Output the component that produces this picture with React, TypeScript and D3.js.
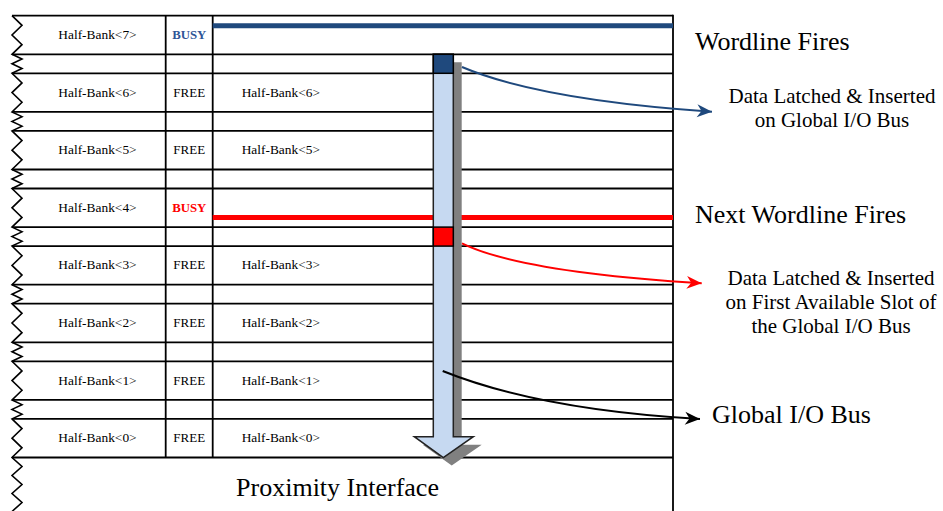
import React from "react";
import * as d3 from "d3";

const BANKS = [7, 6, 5, 4, 3, 2, 1, 0];
const STATUS = ["BUSY", "FREE", "FREE", "BUSY", "FREE", "FREE", "FREE", "FREE"];
const BUSY_COLOR: Record<number, string> = { 7: "#1F497D", 4: "#FF0000" };
const TITLE_WORDLINE = "Wordline Fires";
const TITLE_NEXT = "Next Wordline Fires";
const TITLE_BUS = "Global I/O Bus";
const TITLE_PROX = "Proximity Interface";
const CALLOUT_BLUE = ["Data Latched & Inserted", "on Global I/O Bus"];
const CALLOUT_RED = ["Data Latched & Inserted", "on First Available Slot of", "the Global I/O Bus"];

const W = 943;
const H = 511;
const X0 = 12;
const XC1 = 165.7;
const XC2 = 212.7;
const XR = 673;
const TOP = 15.7;
const STEP = 57.6;
const MAIN = 38.6;
const FONT = "'Liberation Serif', 'Times New Roman', serif";

export default function App() {
  const y = d3
    .scaleBand<number>()
    .domain(BANKS)
    .range([TOP, TOP + STEP * BANKS.length])
    .paddingInner(0)
    .paddingOuter(0);
  const rowTop = (b: number) => y(b) as number;
  const tableBottom = rowTop(0) + MAIN;

  // horizontal lines
  const hLines: number[] = [];
  BANKS.forEach((b) => {
    hLines.push(rowTop(b));
    hLines.push(rowTop(b) + MAIN);
  });

  // zigzag
  const zz = d3.path();
  zz.moveTo(X0, TOP);
  const addTeeth = (y0: number, y1: number, n: number) => {
    const h = (y1 - y0) / (2 * n);
    for (let i = 0; i < n; i++) {
      zz.lineTo(X0 + 10, y0 + h * (2 * i + 1));
      zz.lineTo(X0, y0 + h * (2 * i + 2));
    }
  };
  BANKS.forEach((b, i) => {
    addTeeth(rowTop(b), rowTop(b) + MAIN, 2);
    if (i < BANKS.length - 1) addTeeth(rowTop(b) + MAIN, rowTop(b) + STEP, 2);
  });
  addTeeth(tableBottom, tableBottom + 54, 3);

  // bus arrow
  const sx0 = 433.3, sx1 = 453.3, sTop = rowTop(7) + MAIN, sBot = 436.7;
  const hx0 = 414.3, hx1 = 473.3, tipY = tableBottom;
  const cx = (sx0 + sx1) / 2;
  const arrowPts: [number, number][] = [
    [sx0, sTop], [sx1, sTop], [sx1, sBot], [hx1, sBot], [cx, tipY], [hx0, sBot], [sx0, sBot],
  ];
  const arrowPath = (dx: number, dy: number) =>
    d3.line()(arrowPts.map(([a, b]) => [a + dx, b + dy] as [number, number])) + "Z";

  const curve = (p0: [number, number], c: [number, number], p1: [number, number]) => {
    const p = d3.path();
    p.moveTo(p0[0], p0[1]);
    p.quadraticCurveTo(c[0], c[1], p1[0], p1[1]);
    return p.toString();
  };

  const busyLineY: Record<number, number> = { 7: rowTop(7) + 10, 4: rowTop(4) + 29 };

  return (
    <svg width={W} height={H} style={{ position: "absolute", left: 0, top: 0, background: "#fff" }} fontFamily={FONT}>
      <defs>
        {[["blue", "#1F497D"], ["red", "#FF0000"], ["black", "#000"]].map(([id, c]) => (
          <marker key={id} id={"ah-" + id} markerUnits="userSpaceOnUse" markerWidth={20} markerHeight={16}
            viewBox="-16 -8 17 16" refX={0} refY={0} orient="auto">
            <path d="M0,0 L-15,-6.5 L-10.5,0 L-15,6.5 Z" fill={c} />
          </marker>
        ))}
      </defs>
      <rect x={0} y={0} width={W} height={H} fill="#fff" />
      {/* table lines */}
      {hLines.map((yy, i) => (
        <line key={i} x1={X0} x2={XR} y1={yy} y2={yy} stroke="#000" strokeWidth={1.8} />
      ))}
      <line x1={XC1} x2={XC1} y1={TOP} y2={tableBottom} stroke="#000" strokeWidth={1.8} />
      <line x1={XC2} x2={XC2} y1={TOP} y2={tableBottom} stroke="#000" strokeWidth={1.8} />
      <line x1={XR} x2={XR} y1={TOP - 0.9} y2={H} stroke="#000" strokeWidth={1.8} />
      <path d={zz.toString()} fill="none" stroke="#000" strokeWidth={1.6} />

      {/* busy wordlines */}
      {BANKS.filter((b, i) => STATUS[i] === "BUSY").map((b) => (
        <line key={b} x1={XC2} x2={XR} y1={busyLineY[b]} y2={busyLineY[b]}
          stroke={BUSY_COLOR[b]} strokeWidth={5} />
      ))}

      {/* labels */}
      {BANKS.map((b, i) => {
        const mid = rowTop(b) + MAIN / 2 + 4;
        const busy = STATUS[i] === "BUSY";
        return (
          <g key={b} fontSize={13.4}>
            <text x={97.5} y={mid} textAnchor="middle" fill="#000">{`Half-Bank<${b}>`}</text>
            <text x={189.2} y={mid} textAnchor="middle" fontWeight={busy ? "bold" : "normal"}
              fontSize={busy ? 12.8 : 13} fill={busy ? (b === 7 ? "#2F5597" : "#FF0000") : "#000"}>
              {STATUS[i]}
            </text>
            {!busy && (
              <text x={241.7} y={mid} textAnchor="start" fill="#000">{`Half-Bank<${b}>`}</text>
            )}
          </g>
        );
      })}

      {/* bus arrow */}
      <path d={arrowPath(8.4, 8)} fill="#808080" />
      <path d={arrowPath(0, 0)} fill="#C6D9F1" stroke="#222" strokeWidth={1.5} strokeLinejoin="miter" />
      <rect x={sx0} y={rowTop(7) + MAIN} width={sx1 - sx0} height={STEP - MAIN}
        fill="#1F497D" stroke="#000" strokeWidth={1.5} />
      <rect x={sx0} y={rowTop(4) + MAIN} width={sx1 - sx0} height={STEP - MAIN}
        fill="#FF0000" stroke="#000" strokeWidth={1.5} />

      {/* curves */}
      <path d={curve([462, 67], [540, 100], [712, 111.7])} fill="none" stroke="#1F497D" strokeWidth={2}
        markerEnd="url(#ah-blue)" />
      <path d={curve([462, 243.3], [520, 272], [701.7, 283.3])} fill="none" stroke="#FF0000" strokeWidth={2}
        markerEnd="url(#ah-red)" />
      <path d={curve([442.7, 371], [540, 410], [700, 419])} fill="none" stroke="#000" strokeWidth={2}
        markerEnd="url(#ah-black)" />

      {/* titles */}
      <g fontSize={26} fill="#000">
        <text x={695} y={50}>{TITLE_WORDLINE}</text>
        <text x={695} y={223}>{TITLE_NEXT}</text>
        <text x={712} y={423.3}>{TITLE_BUS}</text>
        <text x={337.5} y={496} textAnchor="middle">{TITLE_PROX}</text>
      </g>
      <g fontSize={21} fill="#000" textAnchor="middle">
        {CALLOUT_BLUE.map((t, i) => (
          <text key={i} x={832} y={102.7 + i * 24}>{t}</text>
        ))}
        {CALLOUT_RED.map((t, i) => (
          <text key={i} x={831} y={285 + i * 24.2}>{t}</text>
        ))}
      </g>
    </svg>
  );
}
